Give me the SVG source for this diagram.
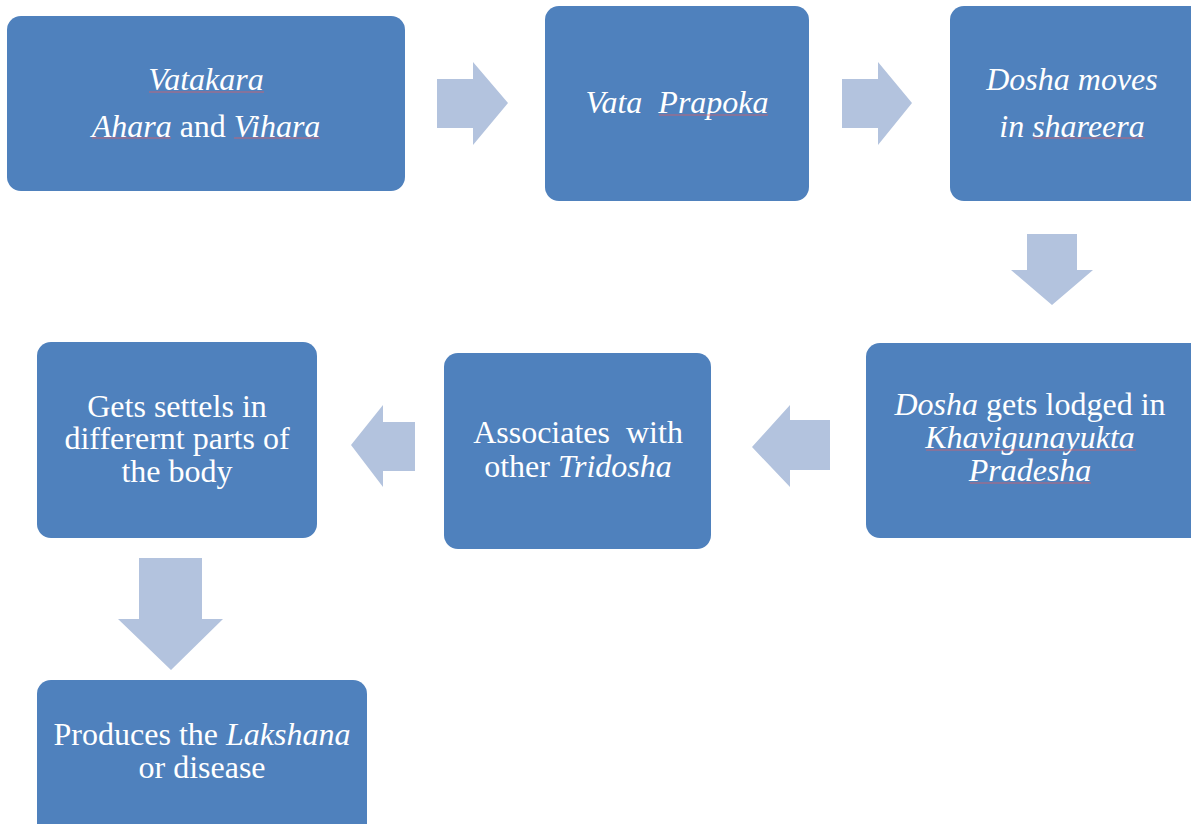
<svg xmlns="http://www.w3.org/2000/svg" width="1191" height="824" viewBox="0 0 1191 824">
<style>
.box{fill:#4F81BD;}
.arr{fill:#B3C3DE;}
text{font-family:"Liberation Serif","Times New Roman",serif;font-size:32px;fill:#FFFFFF;text-anchor:middle;}
.i{font-style:italic;}
.sq{stroke:#D9606A;stroke-width:1;opacity:0.8;fill:none;}
</style>
<rect width="1191" height="824" fill="#FFFFFF"/>
<g id="connectors">
<polygon class="arr" points="437,79 473,79 473,62 508,103 473,145 473,128 437,128"/>
<polygon class="arr" points="842,79 878,79 878,62 912,103 878,145 878,128 842,128"/>
<polygon class="arr" points="1027,234 1077,234 1077,270 1093,270 1052,305 1011,270 1027,270"/>
<polygon class="arr" points="830,420 790,420 790,405 752,447 790,487 790,470 830,470"/>
<polygon class="arr" points="415,422 383,422 383,405 351,445 383,487 383,471 415,471"/>
<polygon class="arr" points="139,558 202,558 202,619 223,619 171,670 118,619 139,619"/>
</g>
<g id="n1">
<rect class="box" x="7" y="16" width="398" height="175" rx="14"/>
<text x="206" y="90" class="i">Vatakara</text>
<text x="206" y="137"><tspan class="i">Ahara</tspan> and <tspan class="i">Vihara</tspan></text>
<line class="sq" x1="149" y1="92" x2="264" y2="92" opacity="0.4"/>
<line class="sq" x1="92" y1="138" x2="171" y2="138" opacity="0.4"/>
<line class="sq" x1="234" y1="138" x2="320" y2="138" opacity="0.4"/>
</g>
<g id="n2">
<rect class="box" x="545" y="6" width="264" height="195" rx="14"/>
<text x="677" y="113" class="i" xml:space="preserve">Vata  Prapoka</text>
<line class="sq" x1="659" y1="115" x2="768" y2="115"/>
</g>
<g id="n3">
<rect class="box" x="950" y="6" width="260" height="195" rx="14"/>
<text x="1072" y="90" class="i">Dosha moves</text>
<text x="1072" y="137" class="i">in shareera</text>
<line class="sq" x1="1033" y1="138" x2="1145" y2="138" opacity="0.4"/>
</g>
<g id="n4">
<rect class="box" x="866" y="343" width="345" height="195" rx="14"/>
<text x="1030" y="415"><tspan class="i">Dosha</tspan> gets lodged in</text>
<text x="1030" y="448" class="i">Khavigunayukta</text>
<text x="1030" y="481" class="i">Pradesha</text>
<line class="sq" x1="926" y1="450" x2="1136" y2="450"/>
<line class="sq" x1="970" y1="483" x2="1091" y2="483"/>
</g>
<g id="n5">
<rect class="box" x="444" y="353" width="267" height="196" rx="14"/>
<text x="578" y="443" xml:space="preserve">Associates  with</text>
<text x="578" y="477">other <tspan class="i">Tridosha</tspan></text>
</g>
<g id="n6">
<rect class="box" x="37" y="342" width="280" height="196" rx="14"/>
<text x="177" y="417">Gets settels in</text>
<text x="177" y="449">differernt parts of</text>
<text x="177" y="482">the body</text>
</g>
<g id="n7">
<rect class="box" x="37" y="680" width="330" height="160" rx="14"/>
<text x="202" y="745">Produces the <tspan class="i">Lakshana</tspan></text>
<text x="202" y="778">or disease</text>
</g>
</svg>
